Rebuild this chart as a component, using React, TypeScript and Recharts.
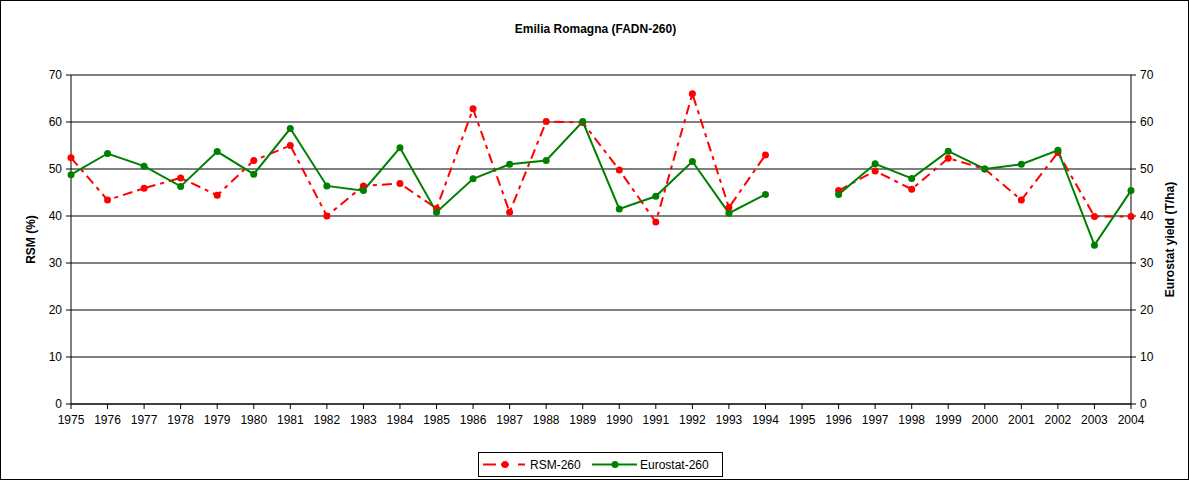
import React from "react";
import {
  LineChart,
  Line,
  XAxis,
  YAxis,
  CartesianGrid,
  Legend,
} from "recharts";

const years = [
  "1975", "1976", "1977", "1978", "1979", "1980", "1981", "1982", "1983", "1984",
  "1985", "1986", "1987", "1988", "1989", "1990", "1991", "1992", "1993", "1994",
  "1995", "1996", "1997", "1998", "1999", "2000", "2001", "2002", "2003", "2004",
];

const rsm260: (number | null)[] = [
  52.4, 43.4, 45.9, 48.1, 44.4, 51.8, 55.0, 40.0, 46.4, 46.9,
  41.6, 62.8, 40.8, 60.1, 59.9, 49.8, 38.7, 66.0, 41.8, 53.0,
  null, 45.4, 49.6, 45.7, 52.3, 50.0, 43.4, 53.5, 39.9, 39.9,
];

const eurostat260: (number | null)[] = [
  48.8, 53.3, 50.6, 46.3, 53.7, 48.9, 58.6, 46.4, 45.4, 54.5,
  40.8, 47.9, 51.0, 51.8, 60.1, 41.5, 44.2, 51.6, 40.6, 44.6,
  null, 44.6, 51.1, 48.0, 53.8, 50.0, 51.0, 54.0, 33.8, 45.4,
];

const yTicks = [0, 10, 20, 30, 40, 50, 60, 70];

const data = years.map((y, i) => ({
  year: y,
  rsm: rsm260[i],
  eurostat: eurostat260[i],
}));

const FONT = "'Liberation Sans', Arial, sans-serif";
const RSM_DASH = "10 5 4 5";

function LegendBox() {
  return (
    <svg width={245} height={25} style={{ display: "block" }}>
      <rect x={0.5} y={0.5} width={244} height={24} fill="#fff" stroke="#000" />
      <line x1={5} y1={12.5} x2={50} y2={12.5} stroke="#ff0000" strokeWidth={2} strokeDasharray="13 5 8 9 7 20" />
      <circle cx={27} cy={12.5} r={3.5} fill="#ff0000" />
      <text x={52} y={17} fontFamily={FONT} fontSize={12} fill="#000">RSM-260</text>
      <line x1={114} y1={12.5} x2={159} y2={12.5} stroke="#008000" strokeWidth={2} />
      <circle cx={137} cy={12.5} r={3.5} fill="#008000" />
      <text x={162} y={17} fontFamily={FONT} fontSize={12} fill="#000">Eurostat-260</text>
    </svg>
  );
}

export default function App() {
  return (
    <div
      style={{
        position: "absolute",
        left: 0,
        top: 0,
        width: 1189,
        height: 480,
        boxSizing: "border-box",
        border: "1px solid #000",
        background: "#fff",
        fontFamily: FONT,
      }}
    >
      <div
        style={{
          position: "absolute",
          left: 0,
          top: 21,
          width: 1189,
          textAlign: "center",
          fontWeight: "bold",
          fontSize: 12,
        }}
      >
        Emilia Romagna (FADN-260)
      </div>
      <div style={{ position: "absolute", left: -1, top: -1 }}>
        <LineChart
          width={1189}
          height={480}
          data={data}
          margin={{ top: 75, right: 10, bottom: 46, left: 11 }}
        >
          <CartesianGrid horizontal vertical={false} stroke="#000" strokeWidth={1} yAxisId="left" />
          <XAxis
            dataKey="year"
            tickLine={{ stroke: "#000" }}
            axisLine={{ stroke: "#000" }}
            tickSize={5}
            tickMargin={6}
            interval={0}
            tick={{ fill: "#000", fontSize: 12, fontFamily: FONT }}
            height={30}
          />
          <YAxis
            yAxisId="left"
            domain={[0, 70]}
            ticks={yTicks}
            width={60}
            tickSize={5}
            tickMargin={4}
            axisLine={{ stroke: "#000" }}
            tickLine={{ stroke: "#000" }}
            tick={{ fill: "#000", fontSize: 12, fontFamily: FONT }}
            label={{
              value: "RSM (%)",
              angle: -90,
              position: "insideLeft",
              offset: 20,
              style: { fontWeight: "bold", fontSize: 12, fontFamily: FONT, fill: "#000", textAnchor: "middle" },
            }}
          />
          <YAxis
            yAxisId="right"
            orientation="right"
            domain={[0, 70]}
            ticks={yTicks}
            width={48}
            tickSize={5}
            tickMargin={4}
            axisLine={{ stroke: "#000" }}
            tickLine={{ stroke: "#000" }}
            tick={{ fill: "#000", fontSize: 12, fontFamily: FONT }}
            label={{
              value: "Eurostat yield (T/ha)",
              angle: -90,
              position: "insideRight",
              offset: 9,
              style: { fontWeight: "bold", fontSize: 12, fontFamily: FONT, fill: "#000", textAnchor: "middle" },
            }}
          />
          <Line
            yAxisId="left"
            dataKey="rsm"
            name="RSM-260"
            type="linear"
            stroke="#ff0000"
            strokeWidth={2}
            strokeDasharray={RSM_DASH}
            dot={{ r: 3.5, fill: "#ff0000", stroke: "#ff0000", strokeWidth: 0 }}
            isAnimationActive={false}
          />
          <Line
            yAxisId="right"
            dataKey="eurostat"
            name="Eurostat-260"
            type="linear"
            stroke="#008000"
            strokeWidth={2}
            dot={{ r: 3.5, fill: "#008000", stroke: "#008000", strokeWidth: 0 }}
            isAnimationActive={false}
          />
          <Legend
            layout="horizontal"
            verticalAlign="middle"
            align="center"
            content={() => <LegendBox />}
            wrapperStyle={{ position: "absolute", left: 478, top: 452, width: 245, height: 25 }}
          />
        </LineChart>
      </div>
    </div>
  );
}
